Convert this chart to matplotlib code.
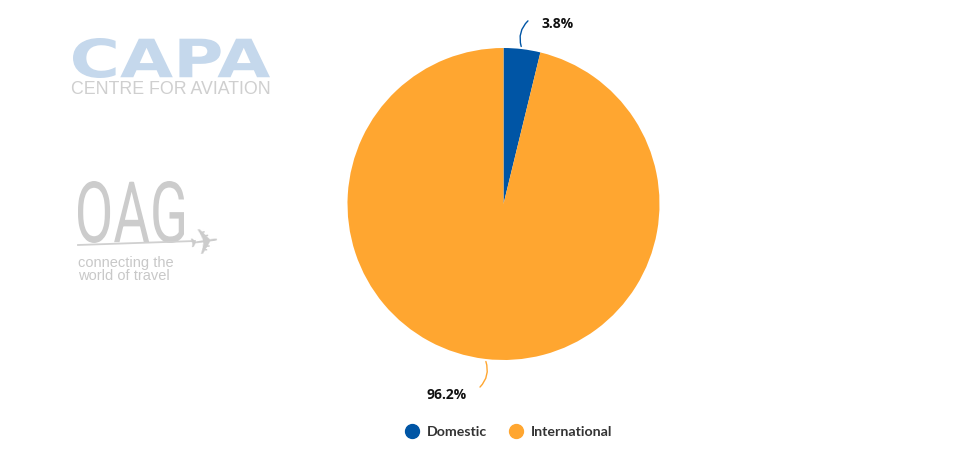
"""Domestic vs international seat share pie chart."""

import numpy as np
import matplotlib.pyplot as plt
from matplotlib.font_manager import FontProperties
from matplotlib.lines import Line2D
from matplotlib.patches import PathPatch
from matplotlib.text import TextPath
from matplotlib.transforms import Affine2D

categories = ["Domestic", "International"]
shares = [3.8, 96.2]
colors = ["#0055a5", "#ffa630"]

W, H = 965, 459
CX, CY, R = 503.5, H - 204, 156


def logo_text(ax, s, x, y, width, height, color, weight="bold", family="DejaVu Sans"):
    # text stretched to a fixed box, used for the watermark logos
    tp = TextPath((0, 0), s, size=1, prop=FontProperties(family=family, weight=weight))
    bb = tp.get_extents()
    tr = (Affine2D().translate(-bb.x0, -bb.y0)
          .scale(width / bb.width, height / bb.height).translate(x, y))
    ax.add_patch(PathPatch(tp, transform=tr + ax.transData, color=color, lw=0))


fig = plt.figure(figsize=(W / 100, H / 100), dpi=100)
ax = fig.add_axes([0, 0, 1, 1])

wedges, _ = ax.pie(shares, colors=colors, startangle=90, counterclock=False,
                   center=(CX, CY), radius=R, wedgeprops=dict(linewidth=0))
ax.set_xlim(0, W)
ax.set_ylim(0, H)
ax.set_aspect("equal")
ax.axis("off")

# labels with curved connectors
label_pos = [(541, H - 24), (467, H - 395)]
ha = ["left", "right"]
line_end = [(530, H - 19), (478, H - 389)]
rads = [-0.35, -0.35]
for w, share, pos, a, end, rad, c in zip(wedges, shares, label_pos, ha, line_end, rads, colors):
    mid = np.deg2rad((w.theta1 + w.theta2) / 2)
    start = (CX + R * np.cos(mid), CY + R * np.sin(mid))
    ax.annotate("", xy=end, xytext=start,
                arrowprops=dict(arrowstyle="-", color=c, lw=1,
                                connectionstyle=f"arc3,rad={rad}"))
    ax.text(pos[0], pos[1], f"{share:.1f}%", ha=a, va="center", fontsize=10,
            fontweight="bold", color="#111111", family="Open Sans")

# watermark logos
logo_text(ax, "CAPA", 73, H - 78, 197, 40, "#c5d8ec", weight="heavy")
ax.text(71, H - 89, "CENTRE FOR AVIATION", fontsize=12.8, color="#cfcfcf",
        va="center", ha="left", family="Liberation Sans")
logo_text(ax, "OAG", 78, H - 243, 106, 62, "#cccccc", weight="normal", family="Roboto")
ax.plot([78, 195], [H - 245, H - 241], color="#d0d0d0", lw=1.3)
ax.text(205, H - 244, "\u2708", fontsize=26, color="#cccccc", ha="center", va="center",
        rotation=8, family="DejaVu Sans")
ax.text(78, H - 263, "connecting the", fontsize=10.5, color="#c8c8c8", va="center",
        family="Liberation Sans")
ax.text(78, H - 276, "world of travel", fontsize=10.5, color="#c8c8c8", va="center",
        family="Liberation Sans")

handles = [Line2D([], [], marker="o", ls="", markersize=10, color=c) for c in colors]
fig.legend(handles, categories, loc="center", bbox_to_anchor=(505 / W, 1 - 432 / H),
           ncol=2, frameon=False, handletextpad=0.1, columnspacing=1.0,
           prop=FontProperties(family="Lato", weight="bold", size=10.2),
           labelcolor="#333333")

fig.savefig("out.png", dpi=100)
